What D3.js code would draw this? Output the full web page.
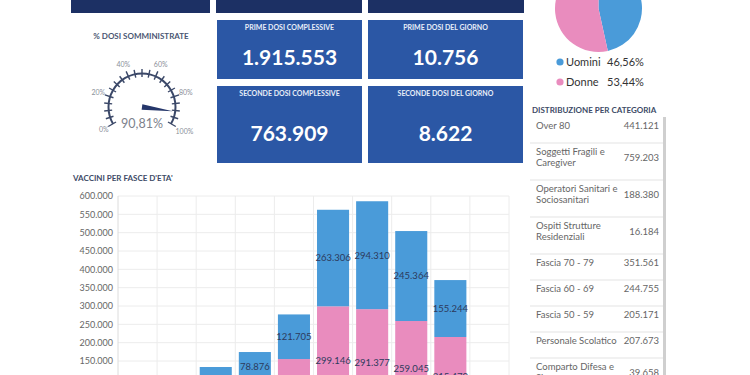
<!DOCTYPE html>
<html><head><meta charset="utf-8">
<script src="https://cdn.jsdelivr.net/npm/d3@7"></script>
<style>
html,body{margin:0;padding:0;background:#fff;overflow:hidden;}
svg{display:block;font-family:Lato,"Open Sans",sans-serif;}
</style></head>
<body>
<svg id="c" width="750" height="375"></svg>
<script>
// ---- data ----
const kpiTitles = ["PRIME DOSI COMPLESSIVE","PRIME DOSI DEL GIORNO","SECONDE DOSI COMPLESSIVE","SECONDE DOSI DEL GIORNO"];
const kpiValues = [1915553, 10756, 763909, 8622];
const gaugeValue = 90.81;
const gaugeTicks = [0,20,40,60,80,100];
const sexLabels = ["Uomini","Donne"];
const sexValues = [46.56, 53.44];
const ageGroups = ["0-15","16-19","20-29","30-39","40-49","50-59","60-69","70-79","80-89","90+"];
const uomini = [3500, 15000, 68400, 78876, 121705, 263306, 294310, 245364, 155244, 22000];
const donne  = [4000, 18000, 65200, 95600, 155300, 299146, 291377, 259045, 215470, 48000];
const yTicks = [0,50000,100000,150000,200000,250000,300000,350000,400000,450000,500000,550000,600000];
const categorie = ["Over 80","Soggetti Fragili e Caregiver","Operatori Sanitari e Sociosanitari","Ospiti Strutture Residenziali","Fascia 70 - 79","Fascia 60 - 69","Fascia 50 - 59","Personale Scolatico","Comparto Difesa e Sicurezza"];
const categorieValori = [441121, 759203, 188380, 16184, 351561, 244755, 205171, 207673, 39658];

const it = d3.formatLocale({decimal:",", thousands:".", grouping:[3], currency:["€",""]});
const fmt = it.format(",d");
const pct = it.format(".2f");

const svg = d3.select("#c");
const navy = "#1c3064", blue = "#2b57a5";
const cBlue = "#4a9bd9", cPink = "#e98cbe";

// ---- top dark boxes ----
[[71,210],[216,362],[368,524]].forEach(([a,b])=>{
  svg.append("rect").attr("x",a).attr("y",-5).attr("width",b-a).attr("height",18).attr("fill",navy);
});

// ---- KPI boxes ----
const boxes = [[217,20,145,59],[368,20,155,59],[217,86,145,77],[368,86,155,77]];
boxes.forEach((b,i)=>{
  const [x,y,w,h]=b;
  svg.append("rect").attr("x",x).attr("y",y).attr("width",w).attr("height",h).attr("fill",blue);
  svg.append("text").attr("x",x+w/2).attr("y",y+10).attr("text-anchor","middle")
    .attr("fill","#e8eef8").attr("font-size",7).attr("font-weight",700).text(kpiTitles[i]);
  svg.append("text").attr("x",x+w/2).attr("y",i<2? y+45: y+55).attr("text-anchor","middle")
    .attr("fill","#fff").attr("font-size",21).attr("font-weight",700).text(fmt(kpiValues[i]));
});

// ---- gauge ----
svg.append("text").attr("x",141).attr("y",39).attr("text-anchor","middle")
  .attr("fill","#4a5672").attr("font-size",8).attr("font-weight",700).text("% DOSI SOMMINISTRATE");
const gc = [142,107];
const ga = d3.scaleLinear().domain([0,100]).range([-120*Math.PI/180, 120*Math.PI/180]);
const gg = svg.append("g").attr("transform",`translate(${gc[0]},${gc[1]})`);
gg.append("path").attr("d", d3.arc()({innerRadius:32.5,outerRadius:34.5,startAngle:ga(0),endAngle:ga(100)}))
  .attr("fill","#3b4868");
d3.range(0,101,5).forEach(v=>{
  const a = ga(v), s=Math.sin(a), c=-Math.cos(a);
  const r1 = 30, r2 = (v%20===0)?39:38;
  gg.append("line").attr("x1",s*r1).attr("y1",c*r1).attr("x2",s*r2).attr("y2",c*r2)
    .attr("stroke","#3b4868").attr("stroke-width",1.4);
});
gaugeTicks.forEach(v=>{
  const a = ga(v), r = v===100?49:(v===0?44:46);
  gg.append("text").attr("x",Math.sin(a)*r).attr("y",-Math.cos(a)*r+2.5).attr("text-anchor","middle")
    .attr("fill","#8a8f99").attr("font-size",7).text(v+"%");
});
{
  const a = ga(gaugeValue), s=Math.sin(a), c=-Math.cos(a);
  const px = Math.cos(a), py = Math.sin(a);
  const tip=[s*31,c*31], b1=[px*2.8,py*2.8], b2=[-px*2.8,-py*2.8];
  gg.append("path").attr("d",`M${b1}L${tip}L${b2}Z`).attr("fill","#25366a");
}
gg.append("text").attr("x",0).attr("y",21).attr("text-anchor","middle").attr("fill","#7d828c")
  .attr("font-size",12.5).text(pct(gaugeValue)+"%");

// ---- pie ----
const pie = d3.pie().sort(null)(sexValues);
const pg = svg.append("g").attr("transform","translate(598.5,8.5)");
pg.selectAll("path").data(pie).join("path")
  .attr("d", d3.arc().innerRadius(0).outerRadius(43.5))
  .attr("fill",(d,i)=>i===0?cBlue:cPink);
sexLabels.forEach((l,i)=>{
  const y = 62 + i*20;
  svg.append("circle").attr("cx",560).attr("cy",y).attr("r",3.6).attr("fill",i===0?cBlue:cPink);
  svg.append("text").attr("x",566).attr("y",y+4).attr("fill","#333").attr("font-size",11).text(l);
  svg.append("text").attr("x",607).attr("y",y+4).attr("fill","#333").attr("font-size",11).text(pct(sexValues[i])+"%");
});

// ---- category table ----
svg.append("text").attr("x",532).attr("y",113).attr("fill","#3d4a66").attr("font-size",8).attr("font-weight",700)
  .text("DISTRIBUZIONE PER CATEGORIA");
svg.append("rect").attr("x",663).attr("y",117).attr("width",3).attr("height",260).attr("fill","#cfcfcf");
let ry = 117;
categorie.forEach((cat,i)=>{
  const t = svg.append("text").attr("font-size",9.5).attr("fill","#666");
  const words = cat.split(" ");
  const lines = []; let cur = "";
  const probe = svg.append("text").attr("font-size",9.5);
  words.forEach(w=>{
    const test = cur ? cur+" "+w : w;
    probe.text(test);
    if (probe.node().getComputedTextLength() > 82 && cur){ lines.push(cur); cur = w; } else cur = test;
  });
  lines.push(cur); probe.remove();
  lines.forEach((ln,j)=>{
    t.append("tspan").attr("x",536).attr("y",ry+9+j*11+3.3).text(ln);
  });
  const vy = ry+9+(lines.length-1)*5.5+3.3;
  svg.append("text").attr("x",659).attr("y",vy).attr("text-anchor","end").attr("font-size",9.5)
    .attr("fill","#666").text(fmt(categorieValori[i]));
  ry += 26 + (lines.length-1)*11;
  svg.append("line").attr("x1",530).attr("x2",663).attr("y1",ry).attr("y2",ry).attr("stroke","#e3e3e3");
});

// ---- bar chart ----
svg.append("text").attr("x",73).attr("y",181).attr("fill","#3d4a66").attr("font-size",8).attr("font-weight",700)
  .text("VACCINI PER FASCE D'ETA'");
const y = d3.scaleLinear().domain([0,600000]).range([416,196]);
const x = d3.scaleBand().domain(ageGroups).range([118,509]).paddingInner(0.18).paddingOuter(0.09);
const grid = svg.append("g");
yTicks.forEach(v=>{
  grid.append("line").attr("x1",118).attr("x2",509).attr("y1",y(v)).attr("y2",y(v)).attr("stroke","#ececec");
});
const step = x.step();
ageGroups.forEach((g,i)=>{
  const gx = x(g) - step*0.09;
  grid.append("line").attr("x1",gx).attr("x2",gx).attr("y1",196).attr("y2",420).attr("stroke", i===0?"#dcdcdc":"#ececec");
});
grid.append("line").attr("x1",509).attr("x2",509).attr("y1",196).attr("y2",420).attr("stroke","#ececec");
const ax = svg.append("g").attr("transform","translate(113,0)")
  .call(d3.axisLeft(y).tickValues(yTicks.filter(v=>y(v)<375)).tickSize(0).tickPadding(0).tickFormat(fmt));
ax.select(".domain").remove();
ax.selectAll("text").attr("fill","#666").attr("font-size",9).attr("font-family","Lato,sans-serif");

const stack = d3.stack().keys(["donne","uomini"])(ageGroups.map((g,i)=>({g, donne:donne[i], uomini:uomini[i]})));
const layers = svg.append("g").selectAll("g").data(stack).join("g")
  .attr("fill",(d,i)=>i===0?cPink:cBlue);
layers.selectAll("rect").data(d=>d).join("rect")
  .attr("x",d=>x(d.data.g)).attr("width",x.bandwidth())
  .attr("y",d=>y(d[1])).attr("height",d=>y(d[0])-y(d[1]));
const lab = svg.append("g");
stack.forEach(layer=>{
  layer.forEach(d=>{
    const ly = (y(d[0])+y(d[1]))/2+3.3;
    if (ly > 383) return; // fully below the visible area
    lab.append("text").attr("x",x(d.data.g)+x.bandwidth()/2).attr("y",ly)
      .attr("text-anchor","middle").attr("font-size",9.5).attr("fill","#2d3a5c").text(fmt(d[1]-d[0]));
  });
});
</script>
</body></html>
